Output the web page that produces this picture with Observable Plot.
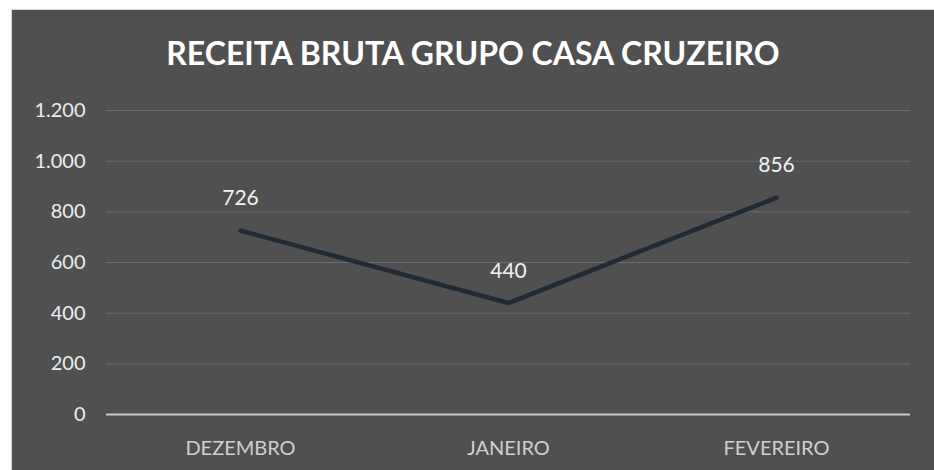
<!DOCTYPE html>
<html>
<head>
<meta charset="utf-8">
<script src="https://cdn.jsdelivr.net/npm/d3@7"></script>
<script src="https://cdn.jsdelivr.net/npm/@observablehq/plot@0.6"></script>
<style>
  html, body { margin: 0; padding: 0; background: #ffffff; }
  #frame {
    position: absolute; left: 11px; top: 9px; width: 922px; height: 460px;
    background: #505050; border-left: 1px solid #d4d4d4; border-top: 1px solid #d4d4d4;
    overflow: hidden;
  }
  #title {
    height: 80px; line-height: 86px; text-align: center; color: #ffffff;
    font-family: Lato, "Open Sans", sans-serif; font-weight: bold; font-size: 32px;
  }
  #chart svg { display: block; }
</style>
</head>
<body>
<div id="frame">
  <div id="title">RECEITA BRUTA GRUPO CASA CRUZEIRO</div>
  <div id="chart"></div>
</div>
<script>
const months = ["DEZEMBRO", "JANEIRO", "FEVEREIRO"];
const revenue = [726, 440, 856];
const yTicks = [0, 200, 400, 600, 800, 1000, 1200];

const data = months.map((m, i) => ({month: m, value: revenue[i]}));
const fmt = d => d3.format(",")(d).replace(/,/g, ".");

const chart = Plot.plot({
  width: 922,
  height: 380,
  marginTop: 20,
  marginBottom: 56,
  marginLeft: 94,
  marginRight: 24,
  style: {background: "transparent", fontFamily: "Lato, 'Open Sans', sans-serif", fontSize: "20px", color: "#e6e6e6"},
  x: {type: "point", domain: months, padding: 0.5, label: null},
  y: {domain: [0, 1200], label: null},
  marks: [
    Plot.gridY(yTicks.filter(d => d > 0), {stroke: "#6b6b6b", strokeOpacity: 1, strokeWidth: 1}),
    Plot.ruleY([0], {stroke: "#c8c8c8", strokeWidth: 2}),
    Plot.axisY({ticks: yTicks, tickSize: 0, tickPadding: 21, tickFormat: fmt, fill: "#ededed", fontSize: 20}),
    Plot.axisX({tickSize: 0, tickPadding: 26, fill: "#cfcfcf", fontSize: 20}),
    Plot.line(data, {x: "month", y: "value", stroke: "#222a36", strokeWidth: 4.5, strokeLinecap: "round", strokeLinejoin: "round"}),
    Plot.text(data, {x: "month", y: "value", text: d => fmt(d.value), dy: -32, fill: "#f2f2f2", fontSize: 21})
  ]
});
document.getElementById("chart").appendChild(chart);
</script>
</body>
</html>
